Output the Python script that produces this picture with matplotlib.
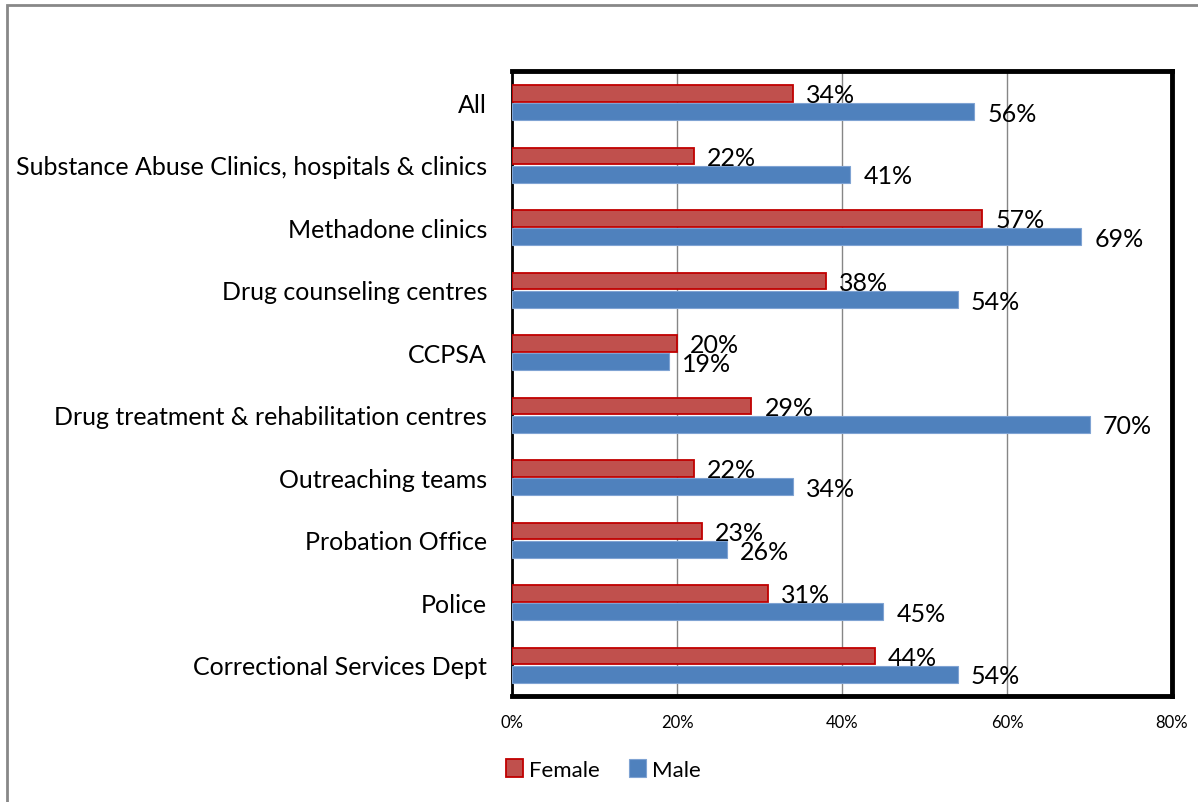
import numpy as np
import matplotlib.pyplot as plt
from matplotlib.patches import Rectangle

# --- Data ---
categories = [
    "All",
    "Substance Abuse Clinics, hospitals & clinics",
    "Methadone clinics",
    "Drug counseling centres",
    "CCPSA",
    "Drug treatment & rehabilitation centres",
    "Outreaching teams",
    "Probation Office",
    "Police",
    "Correctional Services Dept",
]
female = [34, 22, 57, 38, 20, 29, 22, 23, 31, 44]
male = [56, 41, 69, 54, 19, 70, 34, 26, 45, 54]
xticks = [0, 20, 40, 60, 80]

FEMALE_FILL = "#C0504D"
FEMALE_EDGE = "#C00000"
MALE_FILL = "#4F81BD"
MALE_EDGE = "#7FA3D3"

plt.rcParams["font.family"] = ["Lato", "DejaVu Sans"]

W, H = 1198, 803
fig = plt.figure(figsize=(W / 100, H / 100), dpi=100)

# outer chart border (only top/left visible)
fig.patches.append(Rectangle((7 / W, -0.2), 1.2, 1.2 - 6 / H, transform=fig.transFigure,
                             fill=False, edgecolor="#888888", linewidth=2))

ax = fig.add_axes([512 / W, 1 - 697 / H, 660 / W, 625 / H])

y = np.arange(len(categories))
bh = 0.27
ax.barh(y - 0.14, female, height=bh, color=FEMALE_FILL, edgecolor=FEMALE_EDGE,
        linewidth=1.3, label="Female", zorder=3)
ax.barh(y + 0.15, male, height=bh, color=MALE_FILL, edgecolor=MALE_EDGE,
        linewidth=0.8, label="Male", zorder=3)

for yi, v in zip(y, female):
    ax.text(v + 1.6, yi - 0.12, f"{v}%", va="center", ha="left", fontsize=18, zorder=4)
for yi, v in zip(y, male):
    ax.text(v + 1.6, yi + 0.18, f"{v}%", va="center", ha="left", fontsize=18, zorder=4)

ax.set_xlim(0, 80)
ax.set_ylim(len(categories) - 0.5, -0.5)
ax.set_yticks(y)
ax.set_yticklabels(categories, fontsize=18)
ax.set_xticks(xticks)
ax.set_xticklabels([f"{t}%" for t in xticks], fontsize=12)
ax.tick_params(axis="y", length=0, pad=18)
ax.tick_params(axis="x", length=0, pad=13)

ax.grid(axis="x", color="#868686", linewidth=1, zorder=0)
ax.set_axisbelow(True)
for side in ["top", "right", "bottom"]:
    ax.spines[side].set_linewidth(3.5)
ax.spines["left"].set_linewidth(2)

ax.legend(loc="upper left", bbox_to_anchor=(486 / W, 1 - 740 / H),
          bbox_transform=fig.transFigure, ncol=2, frameon=False, fontsize=16,
          handlelength=0.75, handleheight=0.9, handletextpad=0.3, columnspacing=1.3)

fig.savefig("out.png", dpi=100)
